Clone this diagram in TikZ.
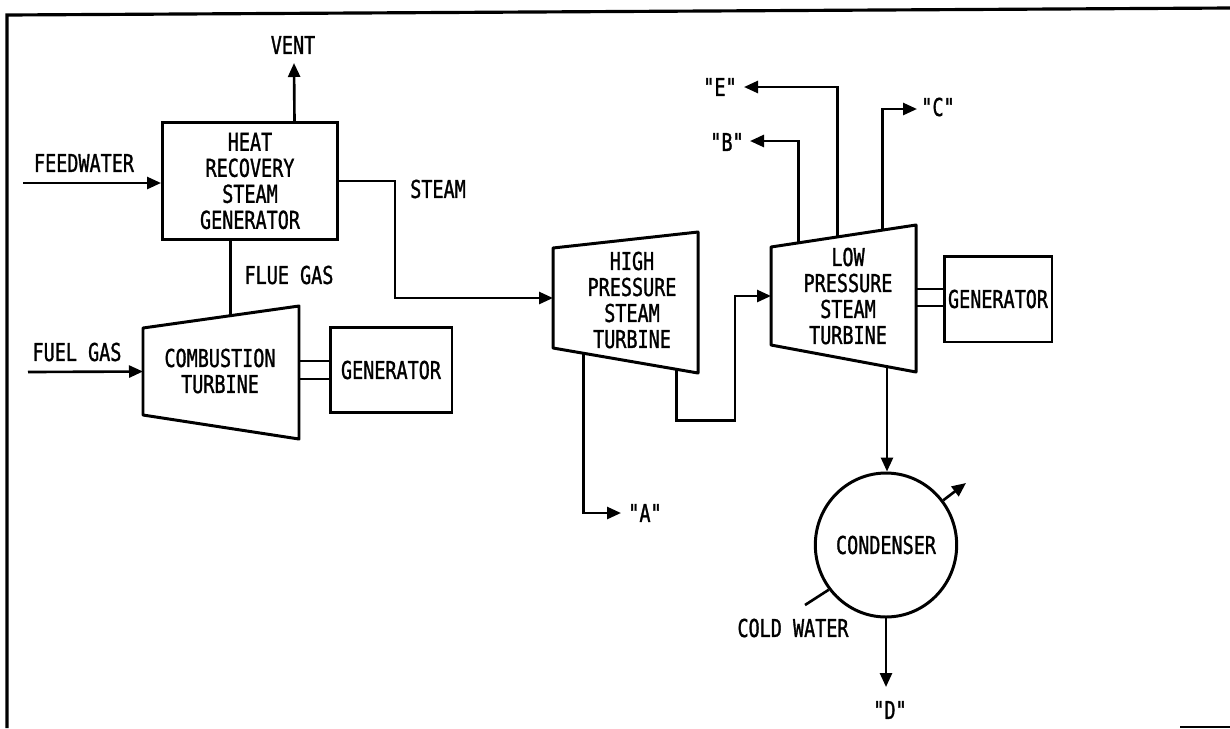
\documentclass[tikz,border=0pt]{standalone}
\usepackage{fontspec}
\setmonofont{DejaVu Sans Mono}[FakeStretch=0.75,FakeBold=1.2]
\usetikzlibrary{arrows.meta,calc,shapes.geometric}

\begin{document}
\begin{tikzpicture}[x=0.02cm,y=-0.02cm,>={Triangle[length=2.8mm,width=2.4mm]},
  every node/.style={font=\ttfamily\fontsize{14}{14.8}\selectfont,inner sep=1pt},
  unit/.style={draw,line width=1.7pt,align=center},
  hull/.style={line width=1.7pt,line join=round},
  pipe/.style={line width=1.5pt},
  flow/.style={->,line width=1.5pt}]
  \useasboundingbox (0,0) rectangle (1230,728);
  % frame
  \draw[line width=1.8pt] (7,728) -- (7,15) -- (1230,8);
  \draw[line width=1.2pt] (1180,727) -- (1230,727);
  % heat recovery steam generator
  \node[unit,minimum width=3.5cm,minimum height=2.34cm] (hrsg) at (250,181)
       {HEAT\\RECOVERY\\STEAM\\GENERATOR};
  \node (vent) at (293,45) {VENT};
  \coordinate (vent-tip) at (294,63);
  \draw[flow] ($(hrsg.north west)!.75!(hrsg.north east)$) -- (vent-tip);
  \node (feed) at (84,163) {FEEDWATER};
  \coordinate (feed-in) at (23,183);
  \draw[flow] (feed-in) -- (feed-in -| hrsg.west);
  % combustion turbine
  \coordinate (ct-nw) at (143,328); \coordinate (ct-sw) at (143,415);
  \coordinate (ct-ne) at (299,306); \coordinate (ct-se) at (299,439);
  \draw[hull] (ct-nw) -- (ct-ne) -- (ct-se) -- (ct-sw) -- cycle;
  \node[align=center] (ct) at (220,371) {COMBUSTION\\TURBINE};
  \coordinate (ct-in) at ($(ct-nw)!.5!(ct-sw)$);
  \node (fuel) at (77,352) {FUEL GAS};
  \coordinate (fuel-in) at (28,372);
  \draw[flow] (fuel-in) -- (ct-in);
  \coordinate (flue) at ($(ct-nw)!.56!(ct-ne)$);
  \draw[pipe] (flue) -- (flue |- hrsg.south);
  \node (flue-lbl) at (289,275) {FLUE GAS};
  \node[unit,minimum width=2.44cm,minimum height=1.7cm] (gen1) at (391,370) {GENERATOR};
  \draw[pipe] ([yshift=.18cm]gen1.west) -- ++(-31,0);
  \draw[pipe] ([yshift=-.18cm]gen1.west) -- ++(-31,0);
  % high pressure turbine
  \coordinate (hp-nw) at (553,248); \coordinate (hp-sw) at (553,348);
  \coordinate (hp-ne) at (698,232); \coordinate (hp-se) at (698,373);
  \draw[hull] (hp-nw) -- (hp-ne) -- (hp-se) -- (hp-sw) -- cycle;
  \node[align=center] (hp) at (632,300) {HIGH\\PRESSURE\\STEAM\\TURBINE};
  \coordinate (hp-in) at ($(hp-nw)!.5!(hp-sw)$);
  \draw[flow] (hrsg.east) -- ++(56,0) |- (hp-in);
  \node (steam) at (438,189) {STEAM};
  \coordinate (hp-a) at ($(hp-sw)!.21!(hp-se)$);
  \coordinate (a-tip) at (621,513);
  \draw[flow] (hp-a) |- (a-tip);
  \node (a) at (645,513) {"A"};
  % low pressure turbine
  \coordinate (lp-nw) at (771,247); \coordinate (lp-sw) at (771,345);
  \coordinate (lp-ne) at (916,225); \coordinate (lp-se) at (916,372);
  \draw[hull] (lp-nw) -- (lp-ne) -- (lp-se) -- (lp-sw) -- cycle;
  \node[align=center] (lp) at (848,296) {LOW\\PRESSURE\\STEAM\\TURBINE};
  \coordinate (lp-in) at ($(lp-nw)!.5!(lp-sw)$);
  \coordinate (hp-x) at ($(hp-sw)!.85!(hp-se)$);
  \draw[flow] (hp-x) -- ++(0,51) -| ($(lp-in)+(-36,0)$) -- (lp-in);
  \coordinate (lp-b) at ($(lp-nw)!.19!(lp-ne)$);
  \coordinate (lp-e) at ($(lp-nw)!.46!(lp-ne)$);
  \coordinate (lp-c) at ($(lp-nw)!.77!(lp-ne)$);
  \coordinate (b-tip) at (750,141);
  \coordinate (e-tip) at (744,87);
  \coordinate (c-tip) at (917,109);
  \draw[flow] (lp-b) |- (b-tip);
  \draw[flow] (lp-e) |- (e-tip);
  \draw[flow] (lp-c) |- (c-tip);
  \node (b) at (727,142) {"B"};
  \node (e) at (720,87) {"E"};
  \node (c) at (938,107) {"C"};
  \node[unit,minimum width=2.16cm,minimum height=1.72cm] (gen2) at (998,299) {GENERATOR};
  \draw[pipe] ([yshift=.2cm]gen2.west) -- ++(-28,0);
  \draw[pipe] ([yshift=-.14cm]gen2.west) -- ++(-28,0);
  % condenser
  \node[unit,ellipse,minimum width=2.16cm,minimum height=2.88cm,inner sep=0pt] (cond)
       at (886,545) {CONDENSER};
  \coordinate (lp-d) at ($(lp-sw)!.8!(lp-se)$);
  \draw[flow] (lp-d) -- (lp-d |- cond.north);
  \coordinate (out-tip) at (966,483);
  \draw[flow] (cond.38) -- (out-tip);
  \coordinate (cw-in) at (805,605);
  \draw[pipe] (cw-in) -- (cond.218);
  \node (cw) at (793,628) {COLD WATER};
  \coordinate (d-tip) at (886,687);
  \draw[flow] (cond.south) -- (d-tip);
  \node (d) at (890,710) {"D"};
\end{tikzpicture}
\end{document}
